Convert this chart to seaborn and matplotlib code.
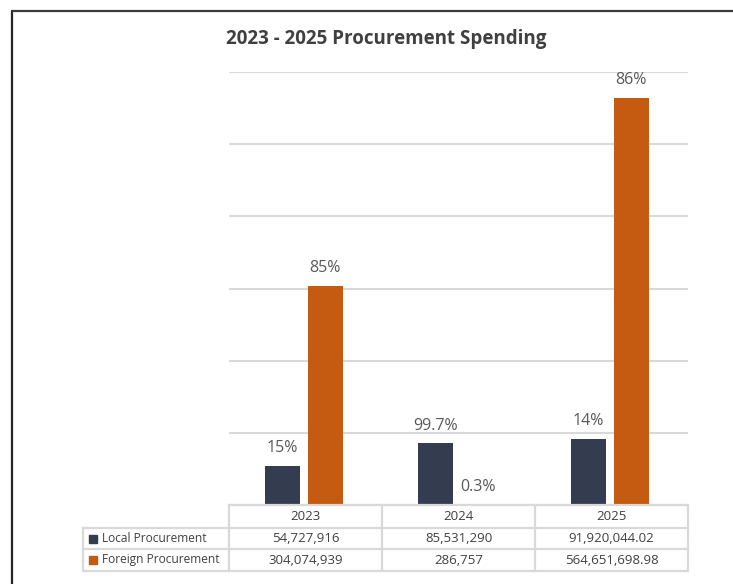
import matplotlib
matplotlib.use("Agg")
import matplotlib.pyplot as plt
from matplotlib.patches import Rectangle
from matplotlib.lines import Line2D
import pandas as pd
import seaborn as sns

# ---- data -------------------------------------------------------------
years = ["2023", "2024", "2025"]
series_names = ["Local Procurement", "Foreign Procurement"]
local_values = [54727916, 85531290, 91920044.02]
foreign_values = [304074939, 286757, 564651698.98]
local_share_labels = ["15%", "99.7%", "14%"]
foreign_share_labels = ["85%", "0.3%", "86%"]
series_colors = ["#333D4F", "#C55A11"]

# ---- styling ----------------------------------------------------------
sns.set_theme(style="white")
plt.rcParams["font.family"] = ["Open Sans", "DejaVu Sans"]

W, H = 733, 584
fig = plt.figure(figsize=(W / 100, H / 100), dpi=100)


def fx(px):
    return px / W


def fy(py):
    return 1 - py / H


GRID = "#D9D9D9"
TEXT = "#404040"

# plot area in pixel coordinates
ax_left, ax_right, ax_top, ax_base = 229, 688, 72, 505
ax = fig.add_axes([fx(ax_left), fy(ax_base), fx(ax_right - ax_left), (ax_base - ax_top) / H])

df = pd.DataFrame({
    "year": years * 2,
    "series": [series_names[0]] * 3 + [series_names[1]] * 3,
    "value": local_values + foreign_values,
})

sns.barplot(data=df, x="year", y="value", hue="series", hue_order=series_names,
            palette=series_colors, width=0.56, gap=0.18, saturation=1,
            linewidth=0, legend=False, ax=ax, zorder=3)

for container, labels in zip(ax.containers, [local_share_labels, foreign_share_labels]):
    ax.bar_label(container, labels=labels, padding=7, fontsize=11.5,
                 color="#595959", clip_on=False)

ax.set_xlim(-0.49, 2.51)
ax.set_ylim(0, 600_000_000)
ax.set_yticks(range(0, 600_000_001, 100_000_000))
ax.yaxis.grid(True, color=GRID, linewidth=1.5, zorder=0)
ax.set_yticklabels([])
ax.set_xticks([])
ax.set_xlabel("")
ax.set_ylabel("")
ax.tick_params(length=0)
for s in ax.spines.values():
    s.set_visible(False)

# ---- title ------------------------------------------------------------
fig.text(fx(386), fy(39), "2023 - 2025 Procurement Spending", ha="center", va="center",
         fontsize=13.5, fontweight="bold", color=TEXT,
         family=["Liberation Sans Narrow", "Open Sans", "DejaVu Sans"])

# ---- data table -------------------------------------------------------
col_edges = [ax_left, 382, 535, ax_right]
label_left = 83
row_edges = [505, 528, 549, 571]


def hline(x0, x1, y):
    fig.add_artist(Line2D([fx(x0), fx(x1)], [fy(y), fy(y)], color=GRID, lw=1.6,
                          solid_capstyle="projecting"))


def vline(x, y0, y1):
    fig.add_artist(Line2D([fx(x), fx(x)], [fy(y0), fy(y1)], color=GRID, lw=1.6,
                          solid_capstyle="projecting"))


hline(col_edges[0], col_edges[-1], row_edges[0])
for y in row_edges[1:]:
    hline(label_left, col_edges[-1], y)
for x in col_edges:
    vline(x, row_edges[0], row_edges[-1])
vline(label_left, row_edges[1], row_edges[-1])


def fmt(v):
    return f"{v:,}" if float(v).is_integer() else f"{v:,.2f}"


for i, yr in enumerate(years):
    cx = (col_edges[i] + col_edges[i + 1]) / 2
    fig.text(fx(cx), fy((row_edges[0] + row_edges[1]) / 2), yr,
             ha="center", va="center", fontsize=9.5, color=TEXT)

for r, (name, vals, color) in enumerate(zip(series_names, [local_values, foreign_values], series_colors)):
    cy = (row_edges[r + 1] + row_edges[r + 2]) / 2
    fig.add_artist(Rectangle((fx(89), fy(cy + 4)), fx(8), 8 / H, color=color,
                             transform=fig.transFigure))
    fig.text(fx(102), fy(cy), name, ha="left", va="center", fontsize=8.6, color=TEXT)
    for i, v in enumerate(vals):
        cx = (col_edges[i] + col_edges[i + 1]) / 2
        fig.text(fx(cx), fy(cy), fmt(v), ha="center", va="center", fontsize=9.5, color=TEXT)

# ---- outer frame ------------------------------------------------------
fig.add_artist(Line2D([fx(12), fx(12)], [fy(11), 0], color="#262626", lw=1.6))
fig.add_artist(Line2D([fx(12), 1], [fy(11), fy(11)], color="#3a3a3a", lw=1.6))

fig.savefig("out.png", dpi=100)
